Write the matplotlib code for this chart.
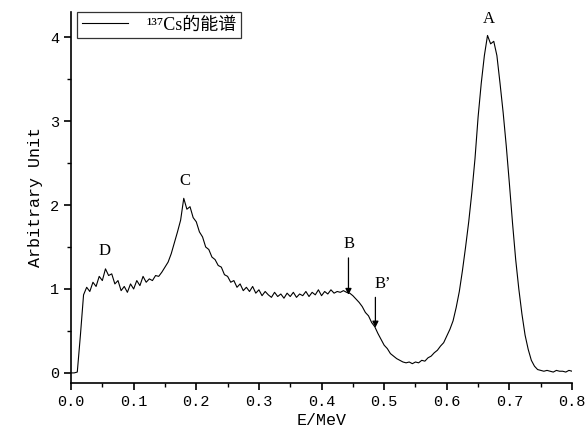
import numpy as np
import matplotlib
matplotlib.use("Agg")
import matplotlib.pyplot as plt
from matplotlib.ticker import MultipleLocator, FormatStrFormatter

# Spectrum: counts every 0.005 MeV from 0 to 0.8 MeV
energyStep = 0.005
counts = [
    0.00, 0.00, 0.01, 0.45, 0.93, 1.02, 0.97, 1.08, 1.03, 1.15,   # 0.000 - 0.045
    1.10, 1.24, 1.16, 1.18, 1.06, 1.10, 0.98, 1.03, 0.96, 1.06,   # 0.050 - 0.095
    1.00, 1.10, 1.04, 1.15, 1.08, 1.12, 1.10, 1.16, 1.15, 1.20,   # 0.100 - 0.145
    1.26, 1.32, 1.42, 1.55, 1.68, 1.82, 2.08, 1.95, 1.98, 1.85,   # 0.150 - 0.195
    1.80, 1.68, 1.62, 1.50, 1.47, 1.38, 1.35, 1.28, 1.26, 1.17,   # 0.200 - 0.245
    1.15, 1.08, 1.10, 1.02, 1.06, 0.98, 1.02, 0.97, 1.03, 0.95,   # 0.250 - 0.295
    0.99, 0.92, 0.97, 0.93, 0.90, 0.96, 0.91, 0.94, 0.89, 0.95,   # 0.300 - 0.345
    0.91, 0.96, 0.90, 0.94, 0.92, 0.97, 0.91, 0.96, 0.93, 0.99,   # 0.350 - 0.395
    0.92, 0.97, 0.94, 0.99, 0.95, 0.97, 0.96, 0.98, 0.96, 0.95,   # 0.400 - 0.445
    0.92, 0.88, 0.84, 0.79, 0.72, 0.68, 0.60, 0.55, 0.47, 0.40,   # 0.450 - 0.495
    0.33, 0.29, 0.23, 0.20, 0.17, 0.15, 0.13, 0.12, 0.13, 0.11,   # 0.500 - 0.545
    0.13, 0.12, 0.15, 0.14, 0.18, 0.20, 0.24, 0.27, 0.32, 0.36,   # 0.550 - 0.595
    0.44, 0.52, 0.62, 0.78, 0.97, 1.22, 1.50, 1.80, 2.15, 2.55,   # 0.600 - 0.645
    3.05, 3.45, 3.78, 4.02, 3.92, 3.95, 3.78, 3.45, 3.10, 2.70,   # 0.650 - 0.695
    2.25, 1.78, 1.35, 1.00, 0.70, 0.45, 0.28, 0.15, 0.08, 0.04,   # 0.700 - 0.745
    0.03, 0.02, 0.03, 0.02, 0.01, 0.03, 0.02, 0.02, 0.01, 0.03,   # 0.750 - 0.795
    0.02,                                                         # 0.800
]
energy = np.arange(len(counts)) * energyStep

# Peak labels and arrows
peakNames = ["A", "C", "D"]
peakX = [0.667, 0.182, 0.053]
peakY = [4.22, 2.29, 1.45]

fig = plt.figure(figsize=(5.86, 4.36), dpi=100)
ax = fig.add_axes([0.1212, 0.1216, 0.855, 0.851])

ax.plot(energy, counts, color="black", linewidth=0.8, label="¹³⁷Cs的能谱")

for name, x, y in zip(peakNames, peakX, peakY):
    ax.text(x, y, name, ha="center", va="center", fontsize=12, family="Liberation Serif")

arrowStyle = dict(arrowstyle="-|>", color="black", lw=0.9, mutation_scale=9, shrinkA=0, shrinkB=0)
ax.annotate("", xy=(0.443, 0.93), xytext=(0.443, 1.37), arrowprops=arrowStyle)
ax.text(0.444, 1.53, "B", ha="center", va="center", fontsize=12, family="Liberation Serif")
ax.annotate("", xy=(0.486, 0.54), xytext=(0.486, 0.90), arrowprops=arrowStyle)
ax.text(0.498, 1.06, "B’", ha="center", va="center", fontsize=12, family="Liberation Serif")

ax.set_xlim(0, 0.8)
ax.set_ylim(-0.12, 4.30)
ax.xaxis.set_major_locator(MultipleLocator(0.1))
ax.xaxis.set_minor_locator(MultipleLocator(0.05))
ax.yaxis.set_major_locator(MultipleLocator(1))
ax.yaxis.set_minor_locator(MultipleLocator(0.5))
ax.xaxis.set_major_formatter(FormatStrFormatter("%.1f"))
ax.tick_params(which="major", direction="out", length=5, width=1.2, labelsize=11)
ax.tick_params(which="minor", direction="out", length=3, width=1.0)
for lbl in ax.get_xticklabels() + ax.get_yticklabels():
    lbl.set_family("Liberation Mono")

ax.spines["top"].set_visible(False)
ax.spines["right"].set_visible(False)
ax.spines["left"].set_linewidth(1.2)
ax.spines["bottom"].set_linewidth(1.2)

ax.set_xlabel("E/MeV", fontsize=12, family="Liberation Mono", labelpad=3)
ax.set_ylabel("Arbitrary Unit", fontsize=12, family="Liberation Mono", labelpad=5)

leg = ax.legend(loc="upper left", bbox_to_anchor=(0.012, 1.0), frameon=True, fancybox=False,
                edgecolor="black", handlelength=2.6, handletextpad=1.0, borderpad=0.25,
                borderaxespad=0, prop={"family": ["Liberation Serif", "Noto Sans CJK SC"], "size": 13})
leg.get_frame().set_linewidth(0.9)

fig.savefig("out.png", dpi=100)
